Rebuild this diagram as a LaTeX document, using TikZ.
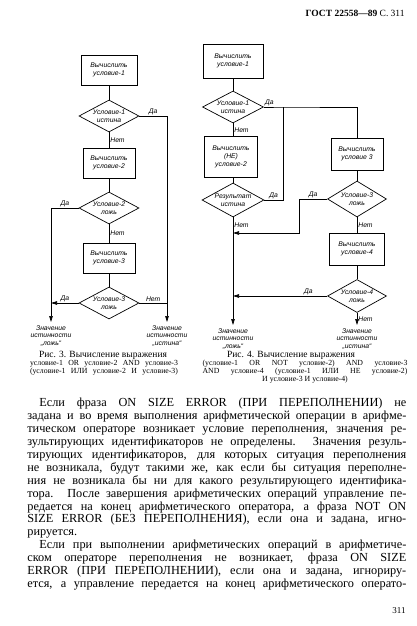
\documentclass[tikz,border=0pt]{standalone}
\usepackage{fontspec}
\setmainfont{Liberation Serif}
\newfontfamily\chartfam{Liberation Sans}
\usetikzlibrary{shapes.geometric,arrows.meta}
\newcommand{\chartfont}{\chartfam\itshape\fontsize{6.8}{7.8}\selectfont}
\newcommand{\jline}[2]{\makebox[#1][s]{#2}}
\tikzset{%
  block/.style  = {draw, rectangle, minimum height=30pt, minimum width=56pt,
    inner sep=1pt, align=center, font=\chartfont},
  cond/.style   = {draw, diamond, aspect=2, inner sep=0pt, minimum width=60pt,
    minimum height=32pt, align=center, font=\chartfont}, % decision
  answer/.style = {font=\chartfont, inner sep=1pt}, % Da / Net
  result/.style = {align=center, inner sep=3pt, font=\chartfont}
}

\begin{document}
\begin{tikzpicture}[x=1pt, y=-1pt, line width=0.7pt, >={Triangle[length=6pt,width=3.5pt]}]
  \useasboundingbox (0,0) rectangle (416,626);

  \node[anchor=east, inner sep=0pt] (head) at (405,13)
    {\fontsize{9.5}{11}\selectfont\textbf{ГОСТ 22558—89} С. 311};

  % Fig. 3
  \draw node at (109,70) [block] (calc1) {Вычислить\\условие-1};
  \draw node at (109,116) [cond] (cond1) {Условие-1\\истина};
  \draw node at (109,163) [block, minimum width=52pt] (calc2) {Вычислить\\условие-2};
  \draw node at (109,208) [cond] (cond2) {Условие-2\\ложь};
  \draw node at (109,258) [block, minimum width=52pt] (calc3) {Вычислить\\условие-3};
  \draw node at (109,303) [cond] (cond3) {Условие-3\\ложь};
  \draw node at (51,336) [result] (false1) {Значение\\истинности\\„ложь“};
  \draw node at (167,336) [result] (true1) {Значение\\истинности\\„истина“};

  \draw (calc1) -- (cond1);
  \draw (cond1) -- node[answer, right] (no1) {Нет} (calc2);
  \draw (calc2) -- (cond2);
  \draw (cond2) -- node[answer, right] (no2) {Нет} (calc3);
  \draw (calc3) -- (cond3);
  \draw[->] (cond1.east) -| node[answer, above, pos=0.25] (yes1) {Да} (true1.north);
  \draw[->] (cond2.west) -| node[answer, above, pos=0.25] (yes2) {Да} (false1.north);
  \draw[->] (cond3.west) -- node[answer, above] (yes3) {Да} (cond3.west -| false1.north);
  \draw (cond3.east) -- node[answer, above] (no3) {Нет} (cond3.east -| true1.north);

  % Fig. 4
  \draw node at (233,61) [block, minimum width=60pt, minimum height=34pt] (calcA) {Вычислить\\условие-1};
  \draw node at (233,107) [cond, minimum width=61pt] (condA) {Условие-1\\истина};
  \draw node at (231,157) [block, minimum width=53pt, minimum height=41pt] (calcB) {Вычислить\\(НЕ)\\условие-2};
  \draw node at (233,200) [cond, minimum width=61pt, minimum height=34pt] (condB) {Результат\\истина};
  \draw node at (357,154) [block, minimum width=52pt, minimum height=32pt] (calcC) {Вычислить\\условие 3};
  \draw node at (357,199) [cond, minimum width=59pt, minimum height=36pt] (condC) {Условие-3\\ложь};
  \draw node at (357,249) [block, minimum width=55pt, minimum height=32pt] (calcD) {Вычислить\\условие-4};
  \draw node at (357,296) [cond, minimum width=59pt, minimum height=33pt] (condD) {Условие-4\\ложь};
  \draw node at (233,339) [result] (falseA) {Значение\\истинности\\„ложь“};
  \draw node at (357,339) [result] (trueA) {Значение\\истинности\\„истина“};

  \coordinate (split) at (283,107);
  \coordinate (joinC) at (233,233);
  \coordinate (joinD) at (233,296);

  \draw (calcA) -- (condA);
  \draw (condA) -- node[answer, right] (noA) {Нет} (condA.south |- calcB.north);
  \draw (condB.north |- calcB.south) -- (condB);
  \draw (condA.east) -- node[answer, above right, pos=0] (yesA) {Да} (split) -| (calcC);
  \draw (condB.east) -- node[answer, above] (yesB) {Да} (condB.east -| split) -- (split);
  \draw[->] (condB) -- node[answer, right, pos=0.07] (noB) {Нет} (falseA);
  \draw (calcC) -- (condC);
  \draw[->] (condC.west) -- node[answer, above] (yesC) {Да} ++(-28,0) |- (joinC);
  \draw (condC) -- node[answer, right] (noC) {Нет} (calcD);
  \draw (calcD) -- (condD);
  \draw[->] (condD.west) -- node[answer, above, pos=0.2] (yesD) {Да} (joinD);
  \draw[->] (condD) -- node[answer, right] (noD) {Нет} (trueA);

  % captions
  \node[inner sep=0pt, font=\fontsize{9.5}{10}\selectfont] (cap3) at (103,355) {Рис. 3. Вычисление выражения};
  \node[anchor=north, align=center, inner sep=0pt, font=\fontsize{7.8}{8}\selectfont] (expr3) at (104,360)
    {\jline{148pt}{условие-1 OR условие-2 AND условие-3}\\
     \jline{148pt}{(условие-1 ИЛИ условие-2 И условие-3)}};
  \node[inner sep=0pt, font=\fontsize{9.5}{10}\selectfont] (cap4) at (291,355) {Рис. 4. Вычисление выражения};
  \node[anchor=north, align=center, inner sep=0pt, font=\fontsize{7.8}{8}\selectfont] (expr4) at (305,360)
    {\jline{205pt}{(условие-1 OR NOT условие-2) AND условие-3}\\
     \jline{205pt}{AND условие-4 (условие-1 ИЛИ НЕ условие-2)}\\
     И условие-3 И условие-4)};

  % body text
  \node[anchor=north west, align=left, inner sep=0pt, font=\fontsize{12.3}{12.9}\selectfont] (body) at (27,398)
    {\jline{379pt}{\hspace*{12pt}Если фраза ON SIZE ERROR (ПРИ ПЕРЕПОЛНЕНИИ) не}\\
     \jline{379pt}{задана и во время выполнения арифметической операции в арифме-}\\
     \jline{379pt}{тическом операторе возникает условие переполнения, значения ре-}\\
     \jline{379pt}{зультирующих идентификаторов не определены. Значения резуль-}\\
     \jline{379pt}{тирующих идентификаторов, для которых ситуация переполнения}\\
     \jline{379pt}{не возникала, будут такими же, как если бы ситуация переполне-}\\
     \jline{379pt}{ния не возникала бы ни для какого результирующего идентифика-}\\
     \jline{379pt}{тора. После завершения арифметических операций управление пе-}\\
     \jline{379pt}{редается на конец арифметического оператора, а фраза NOT ON}\\
     \jline{379pt}{SIZE ERROR (БЕЗ ПЕРЕПОЛНЕНИЯ), если она и задана, игно-}\\
     рируется.\\
     \jline{379pt}{\hspace*{12pt}Если при выполнении арифметических операций в арифметиче-}\\
     \jline{379pt}{ском операторе переполнения не возникает, фраза ON SIZE}\\
     \jline{379pt}{ERROR (ПРИ ПЕРЕПОЛНЕНИИ), если она и задана, игнориру-}\\
     \jline{379pt}{ется, а управление передается на конец арифметического операто-}};

  \node[anchor=east, inner sep=0pt, font=\fontsize{9}{10}\selectfont] (pageno) at (406,611) {311};
\end{tikzpicture}
\end{document}
